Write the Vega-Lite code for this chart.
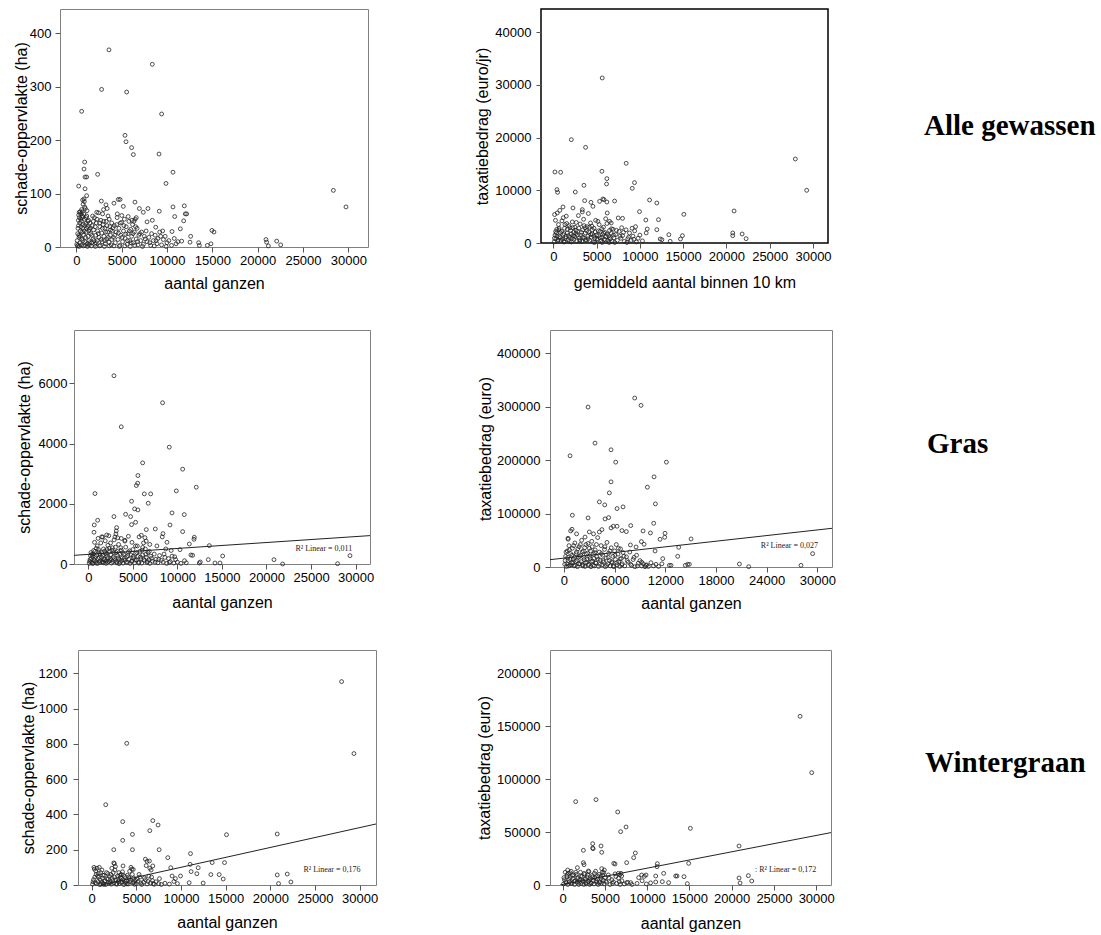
{
"$schema": "https://vega.github.io/schema/vega-lite/v6.json",
"background": "white",
"padding": {"left": 0, "top": 8, "right": 0, "bottom": 0},
"config": {
  "view": {"stroke": "#808080", "strokeWidth": 1},
  "axis": {"domain": false, "grid": false, "tickColor": "#555", "tickSize": 5, "labelFont": "Liberation Sans", "labelFontSize": 13, "labelColor": "#000", "titleFont": "Liberation Sans", "titleFontSize": 16, "titleFontWeight": "normal", "titleColor": "#000", "labelPadding": 2, "labelOverlap": false, "labelFlush": false},
  "axisX": {"titlePadding": 10},
  "axisY": {"titlePadding": 3, "labelPadding": 3},
  "point": {"shape": "circle", "filled": false, "size": 15, "strokeWidth": 0.8, "color": "#222", "opacity": 1}
},
"datasets": {
"p1": [
{"x":3600,"y":369},{"x":8380,"y":342},{"x":2790,"y":295},{"x":5550,"y":290},{"x":590,"y":254},{"x":9410,"y":249},{"x":5370,"y":209},{"x":5480,"y":197},{"x":6100,"y":186},{"x":6290,"y":173},{"x":9120,"y":174},{"x":920,"y":159},{"x":850,"y":146},{"x":960,"y":131},{"x":1140,"y":131},{"x":2350,"y":136},{"x":10660,"y":140},{"x":9890,"y":119},{"x":260,"y":114},{"x":960,"y":109},{"x":1140,"y":96},{"x":28350,"y":106},{"x":29740,"y":75},{"x":2760,"y":86},{"x":4630,"y":89},{"x":4820,"y":89},{"x":6470,"y":84},{"x":3270,"y":79},{"x":4150,"y":82},{"x":5180,"y":76},{"x":6950,"y":72},{"x":7900,"y":72},{"x":7390,"y":65},{"x":9150,"y":67},{"x":8380,"y":50},{"x":10660,"y":75},{"x":11910,"y":77},{"x":10850,"y":57},{"x":12170,"y":62},{"x":12020,"y":62},{"x":11840,"y":49},{"x":11470,"y":34},{"x":10550,"y":29},{"x":9520,"y":30},{"x":12610,"y":20},{"x":14960,"y":31},{"x":15180,"y":28},{"x":13490,"y":8},{"x":13570,"y":3},{"x":14450,"y":3},{"x":14850,"y":6},{"x":12540,"y":9},{"x":11620,"y":11},{"x":20920,"y":14},{"x":20990,"y":9},{"x":21180,"y":2},{"x":22100,"y":11},{"x":22540,"y":4},{"x":4520,"y":62},{"x":5010,"y":59},{"x":5720,"y":57},{"x":6130,"y":50},{"x":6610,"y":55},{"x":7800,"y":47},{"x":8760,"y":37},
{"x":50,"y":5},{"x":100,"y":12},{"x":150,"y":25},{"x":200,"y":3},{"x":250,"y":40},{"x":300,"y":18},{"x":350,"y":55},{"x":400,"y":8},{"x":450,"y":30},{"x":500,"y":62},{"x":550,"y":48},{"x":600,"y":15},{"x":650,"y":66},{"x":700,"y":35},{"x":750,"y":80},{"x":800,"y":22},{"x":850,"y":90},{"x":900,"y":52},{"x":950,"y":10},{"x":1000,"y":72},{"x":1050,"y":44},{"x":1100,"y":28},{"x":1150,"y":58},{"x":1200,"y":6},{"x":1250,"y":38},{"x":1300,"y":20},{"x":1350,"y":50},{"x":1400,"y":12},{"x":1450,"y":33},{"x":1500,"y":45},{"x":120,"y":2},{"x":330,"y":1},{"x":560,"y":4},{"x":780,"y":2},{"x":980,"y":3},{"x":1220,"y":1},{"x":1420,"y":4},{"x":260,"y":60},{"x":430,"y":66},{"x":640,"y":55},{"x":880,"y":85},{"x":700,"y":88},
{"x":1600,"y":25},{"x":1700,"y":8},{"x":1750,"y":40},{"x":1850,"y":15},{"x":1900,"y":32},{"x":2000,"y":55},{"x":2050,"y":5},{"x":2150,"y":22},{"x":2200,"y":45},{"x":2300,"y":12},{"x":2350,"y":30},{"x":2450,"y":64},{"x":2500,"y":18},{"x":2600,"y":38},{"x":2650,"y":3},{"x":2700,"y":50},{"x":2800,"y":26},{"x":2850,"y":10},{"x":2950,"y":42},{"x":3000,"y":70},{"x":3050,"y":20},{"x":3150,"y":35},{"x":3200,"y":6},{"x":3300,"y":48},{"x":3350,"y":15},{"x":3450,"y":28},{"x":3500,"y":58},{"x":3600,"y":9},{"x":3700,"y":38},{"x":3750,"y":22},{"x":3850,"y":4},{"x":3900,"y":45},{"x":3950,"y":30},{"x":1650,"y":2},{"x":2100,"y":1},{"x":2550,"y":2},{"x":3100,"y":1},{"x":3650,"y":2},{"x":2250,"y":65},{"x":2900,"y":62},{"x":3400,"y":72},{"x":1800,"y":58},
{"x":4100,"y":18},{"x":4200,"y":40},{"x":4300,"y":8},{"x":4400,"y":28},{"x":4500,"y":55},{"x":4600,"y":14},{"x":4700,"y":35},{"x":4800,"y":3},{"x":4900,"y":22},{"x":5000,"y":46},{"x":5100,"y":10},{"x":5200,"y":30},{"x":5300,"y":52},{"x":5400,"y":16},{"x":5500,"y":38},{"x":5600,"y":5},{"x":5700,"y":25},{"x":5800,"y":48},{"x":5900,"y":12},{"x":6000,"y":33},{"x":6100,"y":20},{"x":6200,"y":42},{"x":6300,"y":8},{"x":6400,"y":28},{"x":6500,"y":52},{"x":6600,"y":15},{"x":6700,"y":35},{"x":6800,"y":4},{"x":6900,"y":22},{"x":4150,"y":2},{"x":4750,"y":1},{"x":5350,"y":2},{"x":5950,"y":1},{"x":6450,"y":3},{"x":6350,"y":48},
{"x":7100,"y":12},{"x":7200,"y":28},{"x":7400,"y":5},{"x":7500,"y":20},{"x":7700,"y":30},{"x":7800,"y":10},{"x":8000,"y":18},{"x":8200,"y":3},{"x":8300,"y":25},{"x":8500,"y":12},{"x":8700,"y":22},{"x":8900,"y":6},{"x":9000,"y":16},{"x":9200,"y":28},{"x":9400,"y":4},{"x":9600,"y":14},{"x":9800,"y":20},{"x":10000,"y":8},{"x":10200,"y":12},{"x":10500,"y":3},{"x":10800,"y":16},{"x":11000,"y":6},{"x":11200,"y":10},{"x":7300,"y":1},{"x":8600,"y":2},{"x":9900,"y":1},
{"x":180,"y":35},{"x":230,"y":50},{"x":280,"y":22},{"x":320,"y":65},{"x":380,"y":45},{"x":420,"y":20},{"x":480,"y":52},{"x":520,"y":38},{"x":580,"y":70},{"x":620,"y":28},{"x":680,"y":58},{"x":720,"y":12},{"x":760,"y":42},{"x":820,"y":62},{"x":870,"y":30},{"x":920,"y":75},{"x":970,"y":40},{"x":1020,"y":18},{"x":1080,"y":55},{"x":1130,"y":35},{"x":1180,"y":68},{"x":1280,"y":48},{"x":1380,"y":30},{"x":1480,"y":8},{"x":1550,"y":36},{"x":1720,"y":22},{"x":1880,"y":48},{"x":1950,"y":12},{"x":2080,"y":38},{"x":2180,"y":8},{"x":2280,"y":52},{"x":2420,"y":25},{"x":2580,"y":45},{"x":2720,"y":14},{"x":2880,"y":35},{"x":3020,"y":48},{"x":3120,"y":12},{"x":3250,"y":28},{"x":3380,"y":40},{"x":3520,"y":18},{"x":3620,"y":52},{"x":3780,"y":32},{"x":3920,"y":14},{"x":4050,"y":36},{"x":4250,"y":22},{"x":4450,"y":42},{"x":4650,"y":26},{"x":4850,"y":45},{"x":5050,"y":18},{"x":5250,"y":40},{"x":5450,"y":24},{"x":5650,"y":12},{"x":5850,"y":30},{"x":6050,"y":8},{"x":6250,"y":25},{"x":6550,"y":38},{"x":6750,"y":10},{"x":7000,"y":25},{"x":7600,"y":15},{"x":8100,"y":8},{"x":8800,"y":12},{"x":9300,"y":20}
],
"p2": [
{"x":5650,"y":31330},{"x":2080,"y":19620},{"x":3730,"y":18160},{"x":8420,"y":15130},{"x":27960,"y":15950},{"x":29270,"y":10000},{"x":190,"y":13480},{"x":850,"y":13420},{"x":5620,"y":13610},{"x":6190,"y":12220},{"x":6150,"y":11200},{"x":3540,"y":10950},{"x":9380,"y":11460},{"x":9120,"y":10380},{"x":420,"y":10130},{"x":500,"y":9620},{"x":2540,"y":9680},{"x":11120,"y":8160},{"x":11960,"y":7590},{"x":15080,"y":5440},{"x":20880,"y":6080},{"x":20730,"y":1900},{"x":20730,"y":1390},{"x":21810,"y":1710},{"x":22270,"y":820},{"x":9960,"y":5950},{"x":12150,"y":4430},{"x":10690,"y":4370},{"x":11960,"y":2530},{"x":7080,"y":7970},{"x":6190,"y":7780},{"x":5350,"y":7910},{"x":5730,"y":8350},{"x":5850,"y":8230},{"x":4350,"y":7720},{"x":3620,"y":8040},{"x":4580,"y":6960},{"x":2270,"y":6650},{"x":1120,"y":6840},{"x":460,"y":5700},{"x":7500,"y":4750},{"x":8000,"y":4680},{"x":6230,"y":5700},{"x":3350,"y":6330},{"x":13350,"y":1580},{"x":13500,"y":320},{"x":14690,"y":760},{"x":14920,"y":1390},{"x":12350,"y":760},{"x":12540,"y":630},{"x":10730,"y":1900},{"x":10850,"y":2660},{"x":6500,"y":4110},{"x":6690,"y":3800},
{"x":100,"y":200},{"x":200,"y":1500},{"x":300,"y":800},{"x":400,"y":2600},{"x":500,"y":400},{"x":600,"y":3500},{"x":700,"y":1200},{"x":800,"y":2000},{"x":900,"y":500},{"x":1000,"y":4200},{"x":1100,"y":1600},{"x":1200,"y":300},{"x":1300,"y":2800},{"x":1400,"y":900},{"x":1500,"y":5100},{"x":1600,"y":1900},{"x":1700,"y":600},{"x":1800,"y":3300},{"x":1900,"y":1100},{"x":2000,"y":2400},{"x":2100,"y":200},{"x":2200,"y":4000},{"x":2300,"y":1400},{"x":2400,"y":700},{"x":2500,"y":3000},{"x":2600,"y":1800},{"x":2700,"y":400},{"x":2800,"y":2200},{"x":2900,"y":5200},{"x":3000,"y":1000},{"x":3100,"y":3600},{"x":3200,"y":1500},{"x":3300,"y":300},{"x":3400,"y":2500},{"x":3500,"y":4500},{"x":3600,"y":900},{"x":3700,"y":1900},{"x":3800,"y":600},{"x":3900,"y":3100},{"x":4000,"y":1300},{"x":4100,"y":2100},{"x":4200,"y":500},{"x":4300,"y":3800},{"x":4400,"y":1100},{"x":4500,"y":1700},{"x":4600,"y":200},{"x":4700,"y":2800},{"x":4800,"y":900},{"x":4900,"y":4300},{"x":5000,"y":1500},{"x":5100,"y":600},{"x":5200,"y":2300},{"x":5300,"y":3500},{"x":5400,"y":1000},{"x":5500,"y":400},{"x":5600,"y":2700},{"x":5700,"y":1600},{"x":5800,"y":3000},{"x":5900,"y":700},{"x":6000,"y":2000},{"x":6100,"y":1200},{"x":6200,"y":3700},{"x":6300,"y":500},{"x":6400,"y":1400},{"x":6500,"y":2400},{"x":6600,"y":800},{"x":6700,"y":1800},{"x":6800,"y":300},{"x":6900,"y":2600},{"x":7000,"y":1000},{"x":7200,"y":1600},{"x":7400,"y":500},{"x":7600,"y":2200},{"x":7800,"y":900},{"x":8000,"y":1400},{"x":8200,"y":300},{"x":8400,"y":2500},{"x":8600,"y":800},{"x":8800,"y":1900},{"x":9000,"y":500},{"x":9200,"y":1300},{"x":9400,"y":2300},{"x":9600,"y":200},{"x":9800,"y":900},{"x":10000,"y":1500},{"x":10300,"y":400},{"x":150,"y":5400},{"x":250,"y":4300},{"x":350,"y":1900},{"x":650,"y":2500},{"x":750,"y":6200},{"x":1150,"y":4800},{"x":1250,"y":200},{"x":1550,"y":3700},{"x":1850,"y":300},{"x":2250,"y":2900},{"x":2650,"y":3900},{"x":3050,"y":400},{"x":3350,"y":5900},{"x":3650,"y":2900},{"x":4050,"y":5600},{"x":4450,"y":3200},{"x":4750,"y":100},{"x":5150,"y":4100},{"x":5650,"y":100},{"x":6050,"y":4600},{"x":6450,"y":100},{"x":7100,"y":100},{"x":7900,"y":2900},{"x":8500,"y":100},{"x":9100,"y":2800},{"x":9500,"y":3100},
{"x":130,"y":900},{"x":270,"y":2200},{"x":420,"y":1300},{"x":560,"y":600},{"x":680,"y":2800},{"x":830,"y":1000},{"x":960,"y":2200},{"x":1080,"y":700},{"x":1230,"y":1800},{"x":1350,"y":3500},{"x":1480,"y":1200},{"x":1620,"y":2600},{"x":1760,"y":1400},{"x":1920,"y":2900},{"x":2060,"y":1700},{"x":2180,"y":900},{"x":2350,"y":2000},{"x":2480,"y":1200},{"x":2620,"y":2400},{"x":2760,"y":1500},{"x":2950,"y":2800},{"x":3080,"y":600},{"x":3250,"y":2000},{"x":3420,"y":1100},{"x":3560,"y":3300},{"x":3720,"y":500},{"x":3880,"y":2300},{"x":4020,"y":800},{"x":4180,"y":3000},{"x":4330,"y":1600},{"x":4520,"y":2500},{"x":4680,"y":1300},{"x":4850,"y":2100},{"x":5050,"y":800},{"x":5230,"y":1400},{"x":5420,"y":2200},{"x":5620,"y":1100},{"x":5820,"y":1900},{"x":6020,"y":600},{"x":6230,"y":1700},{"x":6480,"y":1000},{"x":6720,"y":2700},{"x":6950,"y":1500},{"x":7300,"y":2400},{"x":7700,"y":1300},{"x":8100,"y":2000},{"x":8700,"y":1100},{"x":9300,"y":700}
],
"p3": [
{"x":2880,"y":6255},{"x":8340,"y":5357},{"x":3700,"y":4558},{"x":9090,"y":3882},{"x":6100,"y":3360},{"x":10590,"y":3150},{"x":5570,"y":2939},{"x":5540,"y":2684},{"x":5390,"y":2606},{"x":12120,"y":2551},{"x":9880,"y":2429},{"x":750,"y":2340},{"x":6290,"y":2329},{"x":7000,"y":2329},{"x":4860,"y":2085},{"x":6730,"y":2018},{"x":10770,"y":1641},{"x":9390,"y":1697},{"x":5200,"y":1830},{"x":5570,"y":1797},{"x":4190,"y":1652},{"x":4750,"y":1575},{"x":2880,"y":1575},{"x":1050,"y":1453},{"x":670,"y":1297},{"x":640,"y":1054},{"x":10590,"y":1076},{"x":9170,"y":1297},{"x":7520,"y":1164},{"x":6510,"y":1142},{"x":5310,"y":1386},{"x":4860,"y":1309},{"x":3180,"y":1209},{"x":3140,"y":1098},{"x":11900,"y":887},{"x":11860,"y":821},{"x":11340,"y":665},{"x":13580,"y":610},{"x":8380,"y":1009},{"x":8830,"y":721},{"x":2060,"y":965},{"x":1610,"y":898},{"x":2990,"y":898},{"x":4120,"y":787},{"x":5950,"y":954},{"x":6360,"y":876},{"x":10290,"y":477},{"x":11520,"y":300},{"x":11710,"y":288},{"x":13470,"y":144},{"x":15080,"y":266},{"x":14780,"y":33},{"x":14220,"y":33},{"x":12570,"y":67},{"x":12460,"y":33},{"x":20840,"y":144},{"x":21810,"y":0},{"x":27980,"y":11},{"x":29370,"y":277},
{"x":100,"y":20},{"x":200,"y":150},{"x":300,"y":60},{"x":400,"y":320},{"x":500,"y":10},{"x":600,"y":450},{"x":700,"y":100},{"x":800,"y":250},{"x":900,"y":30},{"x":1000,"y":600},{"x":1100,"y":180},{"x":1200,"y":400},{"x":1300,"y":50},{"x":1400,"y":700},{"x":1500,"y":220},{"x":1600,"y":80},{"x":1700,"y":500},{"x":1800,"y":140},{"x":1900,"y":350},{"x":2000,"y":20},{"x":2100,"y":260},{"x":2200,"y":620},{"x":2300,"y":90},{"x":2400,"y":420},{"x":2500,"y":170},{"x":2600,"y":30},{"x":2700,"y":540},{"x":2800,"y":230},{"x":2900,"y":800},{"x":3000,"y":110},{"x":3100,"y":380},{"x":3200,"y":40},{"x":3300,"y":280},{"x":3400,"y":650},{"x":3500,"y":150},{"x":3600,"y":60},{"x":3700,"y":460},{"x":3800,"y":200},{"x":3900,"y":30},{"x":4000,"y":330},{"x":4100,"y":120},{"x":4200,"y":560},{"x":4300,"y":240},{"x":4400,"y":50},{"x":4500,"y":400},{"x":4600,"y":150},{"x":4700,"y":20},{"x":4800,"y":300},{"x":4900,"y":100},{"x":5000,"y":480},{"x":5100,"y":200},{"x":5200,"y":40},{"x":5300,"y":350},{"x":5400,"y":130},{"x":5500,"y":600},{"x":5600,"y":250},{"x":5700,"y":60},{"x":5800,"y":420},{"x":5900,"y":170},{"x":6000,"y":30},{"x":6100,"y":300},{"x":6200,"y":700},{"x":6300,"y":110},{"x":6400,"y":500},{"x":6500,"y":220},{"x":6600,"y":50},{"x":6700,"y":380},{"x":6800,"y":140},{"x":6900,"y":20},{"x":7000,"y":260},{"x":7200,"y":90},{"x":7400,"y":330},{"x":7600,"y":160},{"x":7800,"y":40},{"x":8000,"y":280},{"x":8200,"y":120},{"x":8400,"y":60},{"x":8600,"y":220},{"x":8800,"y":20},{"x":9000,"y":180},{"x":9200,"y":80},{"x":9400,"y":260},{"x":9600,"y":30},{"x":9800,"y":150},{"x":10000,"y":60},{"x":10400,"y":20},{"x":10800,"y":110},{"x":11000,"y":40},{"x":300,"y":380},{"x":500,"y":250},{"x":700,"y":720},{"x":900,"y":520},{"x":1100,"y":850},{"x":1300,"y":330},{"x":1500,"y":900},{"x":1700,"y":40},{"x":1900,"y":770},{"x":2100,"y":480},{"x":2300,"y":940},{"x":2500,"y":700},{"x":3100,"y":1000},{"x":3300,"y":870},{"x":3700,"y":850},{"x":4100,"y":760},{"x":4500,"y":920},{"x":4900,"y":720},{"x":5300,"y":600},{"x":5700,"y":900},{"x":6100,"y":550},{"x":6500,"y":760},{"x":6900,"y":650},{"x":7700,"y":600},{"x":8300,"y":900},{"x":8700,"y":500},{"x":9300,"y":450},
{"x":150,"y":90},{"x":250,"y":280},{"x":350,"y":180},{"x":450,"y":40},{"x":550,"y":330},{"x":650,"y":150},{"x":750,"y":420},{"x":850,"y":80},{"x":950,"y":300},{"x":1050,"y":20},{"x":1150,"y":480},{"x":1250,"y":210},{"x":1350,"y":110},{"x":1450,"y":380},{"x":1550,"y":60},{"x":1650,"y":290},{"x":1750,"y":170},{"x":1850,"y":430},{"x":1950,"y":100},{"x":2050,"y":330},{"x":2150,"y":60},{"x":2250,"y":200},{"x":2350,"y":520},{"x":2450,"y":120},{"x":2550,"y":300},{"x":2650,"y":460},{"x":2750,"y":80},{"x":2850,"y":380},{"x":2950,"y":180},{"x":3050,"y":560},{"x":3150,"y":70},{"x":3250,"y":420},{"x":3350,"y":200},{"x":3450,"y":10},{"x":3550,"y":330},{"x":3650,"y":540},{"x":3750,"y":120},{"x":3850,"y":380},{"x":4050,"y":190},{"x":4250,"y":60},{"x":4450,"y":280},{"x":4650,"y":440},{"x":4850,"y":90},{"x":5050,"y":260},{"x":5250,"y":130},{"x":5450,"y":380},{"x":5650,"y":30},{"x":5850,"y":230},{"x":6050,"y":460},{"x":6250,"y":150},{"x":6450,"y":320},{"x":6650,"y":80},{"x":6850,"y":420},{"x":7100,"y":190},{"x":7500,"y":60},{"x":7900,"y":150},{"x":8500,"y":330},{"x":9100,"y":50},{"x":9700,"y":240}
],
"l3": [{"x":-1604,"y":288},{"x":31617,"y":943}],
"t3": [{"x":26440,"y":509,"label":"R² Linear = 0,011"}],
"p4": [
{"x":8380,"y":316250},{"x":2860,"y":299375},{"x":9130,"y":302500},{"x":3680,"y":231875},{"x":730,"y":208125},{"x":5580,"y":219375},{"x":6130,"y":196250},{"x":12130,"y":196250},{"x":10670,"y":168750},{"x":9880,"y":149375},{"x":5580,"y":159375},{"x":5380,"y":138750},{"x":4200,"y":121875},{"x":4830,"y":116250},{"x":10830,"y":118125},{"x":7000,"y":112500},{"x":6290,"y":109375},{"x":1000,"y":96875},{"x":2860,"y":91875},{"x":5300,"y":92500},{"x":4870,"y":90000},{"x":10630,"y":81875},{"x":7910,"y":77500},{"x":6290,"y":76250},{"x":5850,"y":76250},{"x":5580,"y":73125},{"x":960,"y":70625},{"x":800,"y":67500},{"x":490,"y":53750},{"x":3010,"y":65625},{"x":4200,"y":65625},{"x":9370,"y":67500},{"x":7390,"y":66250},{"x":6870,"y":68125},{"x":11970,"y":63125},{"x":11930,"y":55625},{"x":11380,"y":51875},{"x":10240,"y":63750},{"x":15050,"y":52500},{"x":13590,"y":36875},{"x":13470,"y":20000},{"x":11700,"y":15625},{"x":10790,"y":30000},{"x":9490,"y":42500},{"x":9170,"y":47500},{"x":7870,"y":41250},{"x":8540,"y":37500},{"x":14650,"y":5000},{"x":14850,"y":5000},{"x":14370,"y":3125},{"x":12680,"y":3125},{"x":12480,"y":3125},{"x":20770,"y":5625},{"x":21870,"y":625},{"x":28060,"y":3125},{"x":29440,"y":25000},
{"x":100,"y":5000},{"x":200,"y":20000},{"x":300,"y":1000},{"x":400,"y":30000},{"x":500,"y":12000},{"x":600,"y":40000},{"x":700,"y":3000},{"x":800,"y":25000},{"x":900,"y":8000},{"x":1000,"y":35000},{"x":1100,"y":15000},{"x":1200,"y":2000},{"x":1300,"y":45000},{"x":1400,"y":10000},{"x":1500,"y":28000},{"x":1600,"y":500},{"x":1700,"y":18000},{"x":1800,"y":38000},{"x":1900,"y":6000},{"x":2000,"y":22000},{"x":2100,"y":50000},{"x":2200,"y":4000},{"x":2300,"y":30000},{"x":2400,"y":14000},{"x":2500,"y":1000},{"x":2600,"y":42000},{"x":2700,"y":9000},{"x":2800,"y":26000},{"x":2900,"y":3000},{"x":3000,"y":35000},{"x":3100,"y":16000},{"x":3200,"y":500},{"x":3300,"y":48000},{"x":3400,"y":11000},{"x":3500,"y":24000},{"x":3600,"y":2000},{"x":3700,"y":32000},{"x":3800,"y":7000},{"x":3900,"y":19000},{"x":4000,"y":55000},{"x":4100,"y":1000},{"x":4200,"y":28000},{"x":4300,"y":13000},{"x":4400,"y":40000},{"x":4500,"y":4000},{"x":4600,"y":22000},{"x":4700,"y":9000},{"x":4800,"y":33000},{"x":4900,"y":500},{"x":5000,"y":17000},{"x":5100,"y":46000},{"x":5200,"y":6000},{"x":5300,"y":26000},{"x":5400,"y":12000},{"x":5500,"y":2000},{"x":5600,"y":36000},{"x":5700,"y":8000},{"x":5800,"y":20000},{"x":5900,"y":500},{"x":6000,"y":30000},{"x":6100,"y":14000},{"x":6200,"y":42000},{"x":6300,"y":4000},{"x":6400,"y":24000},{"x":6500,"y":10000},{"x":6600,"y":1000},{"x":6700,"y":34000},{"x":6800,"y":16000},{"x":6900,"y":6000},{"x":7000,"y":27000},{"x":7200,"y":2000},{"x":7400,"y":19000},{"x":7600,"y":9000},{"x":7800,"y":28000},{"x":8000,"y":3000},{"x":8200,"y":14000},{"x":8400,"y":500},{"x":8600,"y":22000},{"x":8800,"y":7000},{"x":9000,"y":12000},{"x":9200,"y":2000},{"x":9400,"y":6000},{"x":9600,"y":500},{"x":9800,"y":4000},{"x":10000,"y":1000},{"x":10300,"y":8000},{"x":10600,"y":2000},{"x":10900,"y":5000},{"x":11200,"y":1000},{"x":11600,"y":6000},{"x":500,"y":52000},{"x":1500,"y":62000},{"x":2500,"y":56000},{"x":3500,"y":62000},{"x":4500,"y":70000},
{"x":150,"y":12000},{"x":250,"y":28000},{"x":350,"y":6000},{"x":450,"y":18000},{"x":550,"y":2000},{"x":650,"y":32000},{"x":750,"y":14000},{"x":850,"y":4000},{"x":950,"y":22000},{"x":1050,"y":8000},{"x":1150,"y":40000},{"x":1250,"y":18000},{"x":1350,"y":3000},{"x":1450,"y":25000},{"x":1550,"y":12000},{"x":1650,"y":34000},{"x":1750,"y":6000},{"x":1850,"y":20000},{"x":1950,"y":42000},{"x":2050,"y":10000},{"x":2150,"y":28000},{"x":2250,"y":2000},{"x":2350,"y":18000},{"x":2450,"y":36000},{"x":2550,"y":8000},{"x":2650,"y":24000},{"x":2750,"y":14000},{"x":2850,"y":44000},{"x":2950,"y":5000},{"x":3050,"y":20000},{"x":3150,"y":30000},{"x":3250,"y":10000},{"x":3350,"y":38000},{"x":3450,"y":3000},{"x":3550,"y":16000},{"x":3650,"y":27000},{"x":3750,"y":8000},{"x":3850,"y":42000},{"x":4050,"y":15000},{"x":4250,"y":5000},{"x":4450,"y":25000},{"x":4650,"y":12000},{"x":4850,"y":38000},{"x":5050,"y":3000},{"x":5250,"y":18000},{"x":5450,"y":30000},{"x":5650,"y":10000},{"x":5850,"y":2000},{"x":6050,"y":22000},{"x":6250,"y":8000},{"x":6450,"y":35000},{"x":6650,"y":15000},{"x":6850,"y":4000},{"x":7100,"y":20000},{"x":7500,"y":12000},{"x":7900,"y":5000},{"x":8300,"y":18000},{"x":8700,"y":2000},{"x":9200,"y":9000},{"x":9700,"y":3000}
],
"l4": [{"x":-1645,"y":13690},{"x":31730,"y":72435}],
"t4": [{"x":26690,"y":39000,"label":"R² Linear = 0,027"}],
"p5": [
{"x":27980,"y":1153},{"x":29360,"y":745},{"x":3920,"y":803},{"x":1570,"y":455},{"x":3470,"y":359},{"x":6840,"y":365},{"x":7430,"y":340},{"x":6500,"y":308},{"x":4560,"y":287},{"x":3470,"y":253},{"x":2470,"y":200},{"x":4560,"y":200},{"x":7550,"y":200},{"x":15090,"y":285},{"x":20770,"y":289},{"x":11060,"y":178},{"x":2470,"y":125},{"x":2540,"y":121},{"x":3510,"y":108},{"x":6010,"y":146},{"x":6200,"y":134},{"x":8520,"y":155},{"x":8850,"y":98},{"x":11020,"y":117},{"x":11920,"y":98},{"x":13490,"y":127},{"x":14870,"y":127},{"x":11130,"y":76},{"x":11770,"y":64},{"x":13340,"y":59},{"x":14270,"y":59},{"x":14720,"y":34},{"x":12480,"y":11},{"x":10910,"y":13},{"x":20770,"y":57},{"x":20920,"y":8},{"x":21890,"y":62},{"x":22300,"y":17},{"x":9000,"y":51},{"x":9940,"y":51},{"x":9370,"y":36},{"x":7580,"y":36},{"x":6650,"y":85},{"x":6840,"y":108},{"x":6460,"y":136},
{"x":100,"y":5},{"x":200,"y":30},{"x":300,"y":90},{"x":400,"y":12},{"x":500,"y":60},{"x":600,"y":95},{"x":700,"y":20},{"x":800,"y":45},{"x":900,"y":2},{"x":1000,"y":70},{"x":1100,"y":15},{"x":1200,"y":40},{"x":1300,"y":8},{"x":1400,"y":55},{"x":1500,"y":25},{"x":1600,"y":3},{"x":1700,"y":35},{"x":1800,"y":65},{"x":1900,"y":10},{"x":2000,"y":48},{"x":2100,"y":18},{"x":2200,"y":5},{"x":2300,"y":38},{"x":2400,"y":70},{"x":2500,"y":12},{"x":2600,"y":85},{"x":2700,"y":28},{"x":2800,"y":4},{"x":2900,"y":50},{"x":3000,"y":20},{"x":3100,"y":8},{"x":3200,"y":42},{"x":3300,"y":60},{"x":3400,"y":15},{"x":3500,"y":30},{"x":3600,"y":2},{"x":3700,"y":48},{"x":3800,"y":10},{"x":3900,"y":25},{"x":4000,"y":55},{"x":4100,"y":6},{"x":4200,"y":35},{"x":4300,"y":18},{"x":4400,"y":100},{"x":4500,"y":90},{"x":4600,"y":12},{"x":4700,"y":40},{"x":4800,"y":4},{"x":4900,"y":28},{"x":5000,"y":8},{"x":5200,"y":20},{"x":5400,"y":45},{"x":5600,"y":3},{"x":5800,"y":15},{"x":6000,"y":30},{"x":6200,"y":6},{"x":6400,"y":50},{"x":6600,"y":12},{"x":6800,"y":25},{"x":7000,"y":4},{"x":7200,"y":18},{"x":7500,"y":8},{"x":7800,"y":3},{"x":8200,"y":10},{"x":8700,"y":5},{"x":9200,"y":20},{"x":9600,"y":8},{"x":250,"y":100},{"x":450,"y":80},{"x":650,"y":50},{"x":850,"y":100},{"x":1150,"y":85},{"x":1350,"y":3},{"x":2250,"y":95},{"x":2650,"y":105},{"x":3150,"y":55},{"x":3450,"y":75},{"x":4250,"y":78},{"x":4650,"y":88},{"x":5300,"y":60},{"x":6100,"y":110},{"x":6500,"y":95},
{"x":150,"y":18},{"x":350,"y":45},{"x":550,"y":8},{"x":750,"y":65},{"x":950,"y":30},{"x":1050,"y":5},{"x":1250,"y":55},{"x":1450,"y":20},{"x":1650,"y":70},{"x":1850,"y":35},{"x":2050,"y":12},{"x":2150,"y":60},{"x":2350,"y":25},{"x":2550,"y":45},{"x":2750,"y":8},{"x":2950,"y":32},{"x":3050,"y":70},{"x":3250,"y":15},{"x":3350,"y":40},{"x":3550,"y":55},{"x":3750,"y":20},{"x":3950,"y":6},{"x":4150,"y":45},{"x":4350,"y":28},{"x":4550,"y":60},{"x":4750,"y":15},{"x":5100,"y":35},{"x":5500,"y":12},{"x":5900,"y":40},{"x":6300,"y":20},{"x":6700,"y":45},{"x":6900,"y":8}
],
"l5": [{"x":1068,"y":0},{"x":31830,"y":345.8}],
"t5": [{"x":26900,"y":85,"label":"R² Linear = 0,176"}],
"p6": [
{"x":28090,"y":159370},{"x":29470,"y":106140},{"x":1540,"y":78740},{"x":3940,"y":80630},{"x":6510,"y":68980},{"x":7500,"y":54800},{"x":6860,"y":50390},{"x":15110,"y":53540},{"x":2450,"y":32760},{"x":3550,"y":39060},{"x":3550,"y":34960},{"x":3600,"y":34300},{"x":4540,"y":36850},{"x":4620,"y":30870},{"x":8600,"y":30240},{"x":8400,"y":25830},{"x":7570,"y":21100},{"x":6040,"y":20470},{"x":6200,"y":19800},{"x":2450,"y":21100},{"x":2530,"y":19200},{"x":11200,"y":20160},{"x":11160,"y":17320},{"x":14910,"y":20470},{"x":20870,"y":36850},{"x":20870,"y":6610},{"x":20990,"y":1890},{"x":21970,"y":8820},{"x":22370,"y":3780},{"x":14750,"y":1260},{"x":14360,"y":7870},{"x":13530,"y":8500},{"x":13370,"y":8500},{"x":12540,"y":2200},{"x":11790,"y":3150},{"x":11950,"y":11020},{"x":11010,"y":8500},{"x":11010,"y":2830},{"x":9660,"y":8190},{"x":9350,"y":9450},{"x":9860,"y":9450},{"x":8990,"y":6930},{"x":7570,"y":2200},{"x":8050,"y":2200},{"x":4930,"y":14170},{"x":4850,"y":11650},{"x":4620,"y":15430},{"x":3040,"y":13230},{"x":1740,"y":16380},{"x":590,"y":14170},{"x":870,"y":11650},{"x":6590,"y":11020},{"x":6790,"y":9760},{"x":6980,"y":8500},
{"x":100,"y":1000},{"x":200,"y":5000},{"x":300,"y":12000},{"x":400,"y":2000},{"x":500,"y":8000},{"x":600,"y":500},{"x":700,"y":11000},{"x":800,"y":3000},{"x":900,"y":7000},{"x":1000,"y":13000},{"x":1100,"y":1500},{"x":1200,"y":6000},{"x":1300,"y":9500},{"x":1400,"y":500},{"x":1500,"y":4000},{"x":1600,"y":10000},{"x":1700,"y":2500},{"x":1800,"y":7000},{"x":1900,"y":500},{"x":2000,"y":5000},{"x":2100,"y":12000},{"x":2200,"y":1500},{"x":2300,"y":8000},{"x":2400,"y":3500},{"x":2500,"y":500},{"x":2600,"y":10000},{"x":2700,"y":5500},{"x":2800,"y":1000},{"x":2900,"y":7500},{"x":3000,"y":3000},{"x":3100,"y":12500},{"x":3200,"y":500},{"x":3300,"y":6000},{"x":3400,"y":2000},{"x":3500,"y":9000},{"x":3600,"y":4000},{"x":3700,"y":1000},{"x":3800,"y":7000},{"x":3900,"y":13000},{"x":4000,"y":2500},{"x":4100,"y":5500},{"x":4200,"y":500},{"x":4300,"y":10000},{"x":4400,"y":3000},{"x":4500,"y":8000},{"x":4600,"y":1500},{"x":4700,"y":12000},{"x":4800,"y":4500},{"x":4900,"y":1000},{"x":5000,"y":7000},{"x":5200,"y":2500},{"x":5400,"y":9500},{"x":5600,"y":500},{"x":5800,"y":5000},{"x":6000,"y":3000},{"x":6200,"y":10500},{"x":6400,"y":1500},{"x":6600,"y":6500},{"x":6800,"y":500},{"x":7000,"y":4000},{"x":7300,"y":1000},{"x":7700,"y":2500},{"x":8200,"y":500},{"x":8800,"y":1500},{"x":9400,"y":4000},{"x":9900,"y":1000},{"x":10400,"y":2000},
{"x":150,"y":7000},{"x":350,"y":3000},{"x":550,"y":10000},{"x":750,"y":5500},{"x":950,"y":1500},{"x":1150,"y":9000},{"x":1350,"y":3500},{"x":1550,"y":12000},{"x":1750,"y":6000},{"x":1950,"y":2500},{"x":2150,"y":8500},{"x":2350,"y":4500},{"x":2550,"y":11000},{"x":2750,"y":2000},{"x":2950,"y":9500},{"x":3150,"y":5000},{"x":3350,"y":1500},{"x":3550,"y":7500},{"x":3750,"y":11000},{"x":3950,"y":4000},{"x":4150,"y":8500},{"x":4350,"y":2000},{"x":4550,"y":6000},{"x":4750,"y":9500},{"x":5100,"y":3500},{"x":5500,"y":6500},{"x":5900,"y":1500},{"x":6300,"y":8000},{"x":6700,"y":3000},{"x":6900,"y":11000}
],
"l6": [{"x":-311,"y":0},{"x":31750,"y":49500}],
"t6": [{"x":26390,"y":14170,"label":": R² Linear = 0,172"}],
"r1": [{"label":"Alle gewassen"}],
"r2": [{"label":"Gras"}],
"r3": [{"label":"Wintergraan"}],
"none": []
},
"spacing": 37,
"vconcat": [
{
"spacing": 0,
"hconcat": [
{"width": 10, "height": 1, "view": {"stroke": "transparent"}, "data": {"name": "none"}, "mark": {"type": "point"}},
{"width": 308, "height": 238, "data": {"name": "p1"}, "mark": {"type": "point"},
 "encoding": {
  "x": {"field": "x", "type": "quantitative", "scale": {"domain": [-1800, 32170], "nice": false, "zero": false}, "axis": {"title": "aantal ganzen", "values": [0,5000,10000,15000,20000,25000,30000], "format": "d", "titlePadding": 8}},
  "y": {"field": "y", "type": "quantitative", "scale": {"domain": [0, 445.5], "nice": false, "zero": false}, "axis": {"title": "schade-oppervlakte (ha)", "values": [0,100,200,300,400], "format": "d", "labelPadding": 4, "titlePadding": 0}}
 }},
{"width": 103, "height": 1, "view": {"stroke": "transparent"}, "data": {"name": "none"}, "mark": {"type": "point"}},
{"width": 287, "height": 234, "data": {"name": "p2"}, "mark": {"type": "point"},
 "view": {"stroke": "#000", "strokeWidth": 1.5},
 "encoding": {
  "x": {"field": "x", "type": "quantitative", "scale": {"domain": [-1420, 31730], "nice": false, "zero": false}, "axis": {"title": "gemiddeld aantal binnen 10 km", "values": [0,5000,10000,15000,20000,25000,30000], "format": "d", "titlePadding": 11}},
  "y": {"field": "y", "type": "quantitative", "scale": {"domain": [0, 44420], "nice": false, "zero": false}, "axis": {"title": "taxatiebedrag (euro/jr)", "values": [0,10000,20000,30000,40000], "format": "d", "labelPadding": 5, "titlePadding": 4}}
 }},
{"width": 88, "height": 1, "view": {"stroke": "transparent"}, "data": {"name": "none"}, "mark": {"type": "point"}},
{"width": 2, "height": 234, "view": {"stroke": "transparent"}, "data": {"name": "r1"},
 "mark": {"type": "text", "align": "left", "baseline": "middle", "font": "Liberation Serif", "fontSize": 29, "fontWeight": "bold", "color": "#000"},
 "encoding": {"text": {"field": "label"}}}
]
},
{
"spacing": 0,
"hconcat": [
{"width": 13, "height": 1, "view": {"stroke": "transparent"}, "data": {"name": "none"}, "mark": {"type": "point"}},
{"width": 296, "height": 234,
 "encoding": {
  "x": {"field": "x", "type": "quantitative", "scale": {"domain": [-1604, 31617], "nice": false, "zero": false}, "axis": {"title": "aantal ganzen", "values": [0,5000,10000,15000,20000,25000,30000], "format": "d", "titlePadding": 10}},
  "y": {"field": "y", "type": "quantitative", "scale": {"domain": [0, 7774], "nice": false, "zero": false}, "axis": {"title": "schade-oppervlakte (ha)", "values": [0,2000,4000,6000], "format": "d", "labelPadding": 2, "titlePadding": 6}}
 },
 "layer": [
  {"data": {"name": "p3"}, "mark": {"type": "point"}},
  {"data": {"name": "l3"}, "mark": {"type": "line", "color": "#222", "strokeWidth": 1, "clip": true}},
  {"data": {"name": "t3"}, "mark": {"type": "text", "font": "Liberation Serif", "fontSize": 8, "color": "#222"}, "encoding": {"text": {"field": "label"}}}
 ]},
{"width": 100, "height": 1, "view": {"stroke": "transparent"}, "data": {"name": "none"}, "mark": {"type": "point"}},
{"width": 282, "height": 237,
 "encoding": {
  "x": {"field": "x", "type": "quantitative", "scale": {"domain": [-1645, 31730], "nice": false, "zero": false}, "axis": {"title": "aantal ganzen", "values": [0,6000,12000,18000,24000,30000], "format": "d", "titlePadding": 8}},
  "y": {"field": "y", "type": "quantitative", "scale": {"domain": [0, 443600], "nice": false, "zero": false}, "axis": {"title": "taxatiebedrag (euro)", "values": [0,100000,200000,300000,400000], "format": "d", "labelPadding": 5, "titlePadding": 3}}
 },
 "layer": [
  {"data": {"name": "p4"}, "mark": {"type": "point"}},
  {"data": {"name": "l4"}, "mark": {"type": "line", "color": "#222", "strokeWidth": 1, "clip": true}},
  {"data": {"name": "t4"}, "mark": {"type": "text", "font": "Liberation Serif", "fontSize": 8, "color": "#222"}, "encoding": {"text": {"field": "label"}}}
 ]},
{"width": 87, "height": 1, "view": {"stroke": "transparent"}, "data": {"name": "none"}, "mark": {"type": "point"}},
{"width": 2, "height": 237, "view": {"stroke": "transparent"}, "data": {"name": "r2"},
 "mark": {"type": "text", "align": "left", "baseline": "middle", "dy": -5, "font": "Liberation Serif", "fontSize": 29, "fontWeight": "bold", "color": "#000"},
 "encoding": {"text": {"field": "label"}}}
]
},
{
"spacing": 0,
"hconcat": [
{"width": 17, "height": 1, "view": {"stroke": "transparent"}, "data": {"name": "none"}, "mark": {"type": "point"}},
{"width": 298, "height": 235,
 "encoding": {
  "x": {"field": "x", "type": "quantitative", "scale": {"domain": [-1535, 31830], "nice": false, "zero": false}, "axis": {"title": "aantal ganzen", "values": [0,5000,10000,15000,20000,25000,30000], "format": "d", "titlePadding": 9}},
  "y": {"field": "y", "type": "quantitative", "scale": {"domain": [0, 1332], "nice": false, "zero": false}, "axis": {"title": "schade-oppervlakte (ha)", "values": [0,200,400,600,800,1000,1200], "format": "d", "labelPadding": 6, "titlePadding": 2}}
 },
 "layer": [
  {"data": {"name": "p5"}, "mark": {"type": "point"}},
  {"data": {"name": "l5"}, "mark": {"type": "line", "color": "#222", "strokeWidth": 1, "clip": true}},
  {"data": {"name": "t5"}, "mark": {"type": "text", "font": "Liberation Serif", "fontSize": 8, "color": "#222"}, "encoding": {"text": {"field": "label"}}}
 ]},
{"width": 95, "height": 1, "view": {"stroke": "transparent"}, "data": {"name": "none"}, "mark": {"type": "point"}},
{"width": 281, "height": 235,
 "encoding": {
  "x": {"field": "x", "type": "quantitative", "scale": {"domain": [-1500, 31750], "nice": false, "zero": false}, "axis": {"title": "aantal ganzen", "values": [0,5000,10000,15000,20000,25000,30000], "format": "d", "titlePadding": 10}},
  "y": {"field": "y", "type": "quantitative", "scale": {"domain": [0, 222000], "nice": false, "zero": false}, "axis": {"title": "taxatiebedrag (euro)", "values": [0,50000,100000,150000,200000], "format": "d", "labelPadding": 5, "titlePadding": 4}}
 },
 "layer": [
  {"data": {"name": "p6"}, "mark": {"type": "point"}},
  {"data": {"name": "l6"}, "mark": {"type": "line", "color": "#222", "strokeWidth": 1, "clip": true}},
  {"data": {"name": "t6"}, "mark": {"type": "text", "font": "Liberation Serif", "fontSize": 8, "color": "#222"}, "encoding": {"text": {"field": "label"}}}
 ]},
{"width": 86, "height": 1, "view": {"stroke": "transparent"}, "data": {"name": "none"}, "mark": {"type": "point"}},
{"width": 2, "height": 235, "view": {"stroke": "transparent"}, "data": {"name": "r3"},
 "mark": {"type": "text", "align": "left", "baseline": "middle", "dy": -5, "font": "Liberation Serif", "fontSize": 29, "fontWeight": "bold", "color": "#000"},
 "encoding": {"text": {"field": "label"}}}
]
}
]
}
